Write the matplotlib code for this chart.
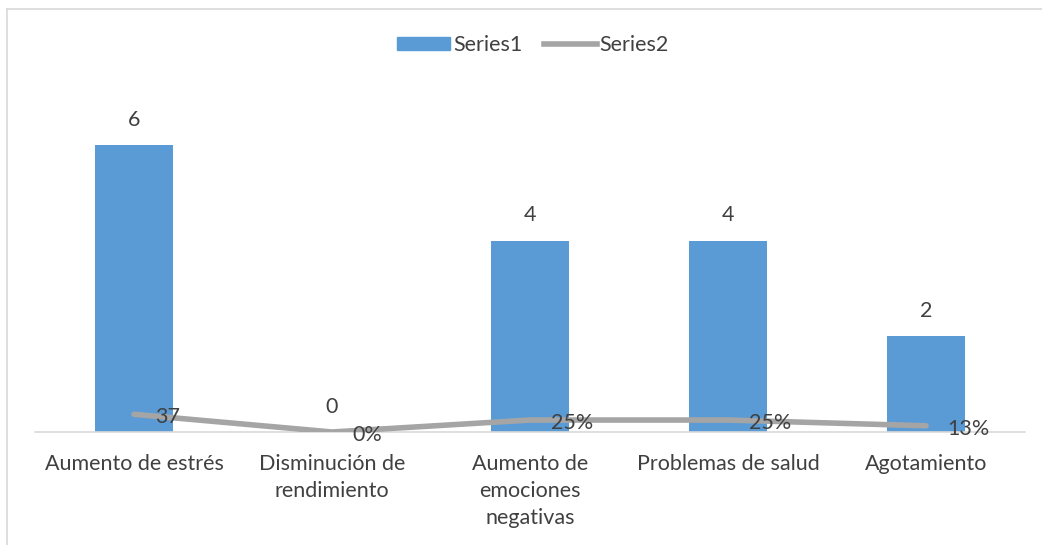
import matplotlib
matplotlib.use("Agg")
import matplotlib.pyplot as plt
from matplotlib.lines import Line2D
from matplotlib.patches import Patch

categories = ["Aumento de estrés", "Disminución de\nrendimiento",
              "Aumento de\nemociones\nnegativas", "Problemas de salud", "Agotamiento"]
series1 = [6, 0, 4, 4, 2]
series2 = [0.37, 0.0, 0.25, 0.25, 0.13]
series2_labels = ["37", "0%", "25%", "25%", "13%"]

plt.rcParams['font.family'] = ['Lato', 'DejaVu Sans']
txt = '#404040'
fs = 15.5
W, H = 1042, 545
fig = plt.figure(figsize=(W/100, H/100), dpi=100)
ax = fig.add_axes([35/W, (H-432)/H, 990/W, 335/H])

x = list(range(len(categories)))
ax.bar(x, series1, width=0.39, color='#5B9BD5', zorder=2)
ax.plot(x, series2, color='#A5A5A5', lw=4, solid_capstyle='round', zorder=3)

for xi, v in zip(x, series1):
    ax.annotate(str(v), (xi, v), xytext=(0, 11), textcoords='offset points',
                ha='center', va='bottom', fontsize=fs, color=txt, zorder=4)
for xi, v, lab in zip(x, series2, series2_labels):
    ax.annotate(lab, (xi, v), xytext=(15, -2), textcoords='offset points',
                ha='left', va='center', fontsize=fs, color=txt, zorder=4)

ax.set_xlim(-0.5, len(categories) - 0.5)
ax.set_ylim(0, 7)
ax.set_yticks([])
ax.set_xticks(x)
ax.set_xticklabels(categories, fontsize=fs, color=txt, linespacing=1.45)
ax.tick_params(axis='x', length=0, pad=15.5)
for s in ['top', 'right', 'left']:
    ax.spines[s].set_visible(False)
ax.spines['bottom'].set_color('#D9D9D9')
ax.spines['bottom'].set_linewidth(1.2)

handles = [Patch(color='#5B9BD5', label='Series1'),
           Line2D([0], [0], color='#A5A5A5', lw=4, label='Series2')]
fig.legend(handles=handles, loc='center', bbox_to_anchor=(533/W, 1 - 45/H), ncol=2,
           frameon=False, fontsize=fs, labelcolor=txt, handlelength=2.45,
           handletextpad=0.15, columnspacing=1.0, handleheight=0.55)

# chart border lines
fig.add_artist(Line2D([6.5/W, 6.5/W], [0, 1 - 9/H], color='#D9D9D9', lw=1.2))
fig.add_artist(Line2D([6.5/W, 1], [1 - 9/H, 1 - 9/H], color='#D9D9D9', lw=1.2))

fig.savefig('out.png', dpi=100)
